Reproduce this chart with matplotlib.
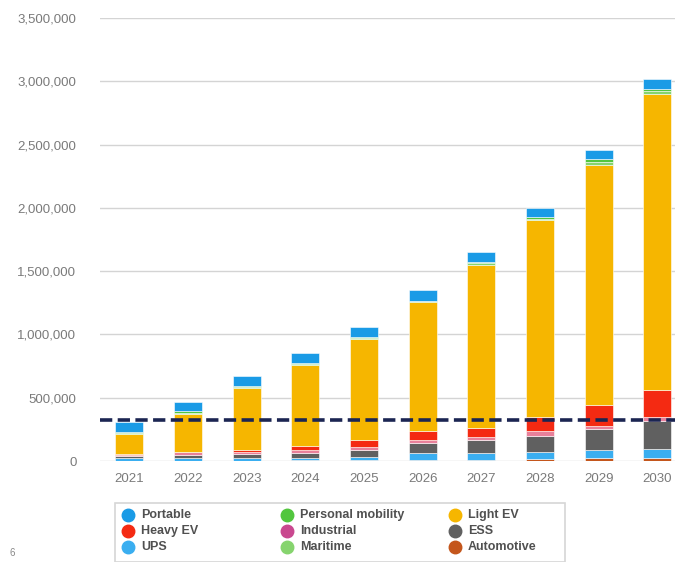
import numpy as np
import matplotlib.pyplot as plt
from matplotlib.lines import Line2D
from matplotlib.patches import Rectangle

plt.rcParams['font.family'] = ['Liberation Sans', 'DejaVu Sans']

years = ['2021', '2022', '2023', '2024', '2025', '2026', '2027', '2028', '2029', '2030']

# values, stacked bottom -> top
automotive = [2000, 3000, 3000, 5000, 5000, 5000, 8000, 15000, 25000, 25000]
ups = [20000, 20000, 20000, 20000, 25000, 55000, 55000, 60000, 65000, 70000]
ess = [15000, 25000, 30000, 40000, 55000, 80000, 100000, 125000, 165000, 220000]
industrial = [10000, 20000, 20000, 20000, 25000, 25000, 30000, 35000, 25000, 30000]
heavy_ev = [5000, 5000, 12000, 30000, 55000, 70000, 70000, 110000, 160000, 215000]
light_ev = [165000, 300000, 490000, 643000, 800000, 1018000, 1289000, 1560000, 1900000, 2340000]
maritime = [5000, 10000, 8000, 8000, 8000, 8000, 10000, 10000, 25000, 25000]
personal_mobility = [10000, 10000, 7000, 7000, 7000, 7000, 10000, 10000, 20000, 15000]
portable = [75000, 75000, 80000, 80000, 80000, 80000, 80000, 75000, 75000, 80000]

threshold = 320000

series = [
    ('Automotive', automotive, '#c4561c'),
    ('UPS', ups, '#3aaef0'),
    ('ESS', ess, '#606060'),
    ('Industrial', industrial, '#e8809a'),
    ('Heavy EV', heavy_ev, '#f42a12'),
    ('Light EV', light_ev, '#f6b600'),
    ('Maritime', maritime, '#86d46e'),
    ('Personal mobility', personal_mobility, '#52c63e'),
    ('Portable', portable, '#1a9be6'),
]
legend_colors = {'Industrial': '#c9488f'}
legend_order = ['Portable', 'Heavy EV', 'UPS',
                'Personal mobility', 'Industrial', 'Maritime',
                'Light EV', 'ESS', 'Automotive']

fig = plt.figure(figsize=(6.75, 5.62), dpi=100)
ax = fig.add_axes([100 / 675, 101 / 562, 575 / 675, 443 / 562])

x = np.arange(len(years))
bottom = np.zeros(len(years))
colors = {}
for name, vals, col in series:
    ax.bar(x, vals, width=0.48, bottom=bottom, color=col, edgecolor='white', linewidth=0.4)
    bottom += np.array(vals)
    colors[name] = col

ax.axhline(threshold, color='#1b2552', linewidth=2.6, linestyle=(0, (3.4, 1.5)), zorder=5)

ax.set_xlim(-0.5, 9.3)
ax.set_ylim(0, 3500000)
ax.set_yticks(np.arange(0, 3500001, 500000))
ax.yaxis.set_major_formatter(plt.FuncFormatter(lambda v, p: f'{int(v):,}'))
ax.set_xticks(x)
ax.set_xticklabels(years)
ax.grid(axis='y', color='#d4d4d4', linewidth=1)
ax.set_axisbelow(True)
for s in ax.spines.values():
    s.set_visible(False)
ax.tick_params(length=0, colors='#7a7a7a', labelsize=9.5)
ax.tick_params(axis='y', pad=17)
ax.tick_params(axis='x', pad=9)

# legend box drawn by hand
fig.patches.append(Rectangle((115 / 675, 0.0), 450 / 675, 59 / 562, transform=fig.transFigure,
                             facecolor='white', edgecolor='#d6d6d6', linewidth=1.2))
col_x = [128, 287, 455]
row_y = [515, 531, 547]
for i, name in enumerate(legend_order):
    cx = col_x[i // 3] / 675
    cy = 1 - row_y[i % 3] / 562
    fig.add_artist(Line2D([cx], [cy], marker='o', markersize=9, linestyle='none',
                          color=legend_colors.get(name, colors[name]), transform=fig.transFigure))
    fig.text(cx + 13 / 675, cy, name, fontsize=9, fontweight='bold', color='#505050', va='center')

fig.text(10 / 675, 1 - 553 / 562, '6', fontsize=7, color='#888888', va='center')

fig.savefig('out.png', dpi=100)
